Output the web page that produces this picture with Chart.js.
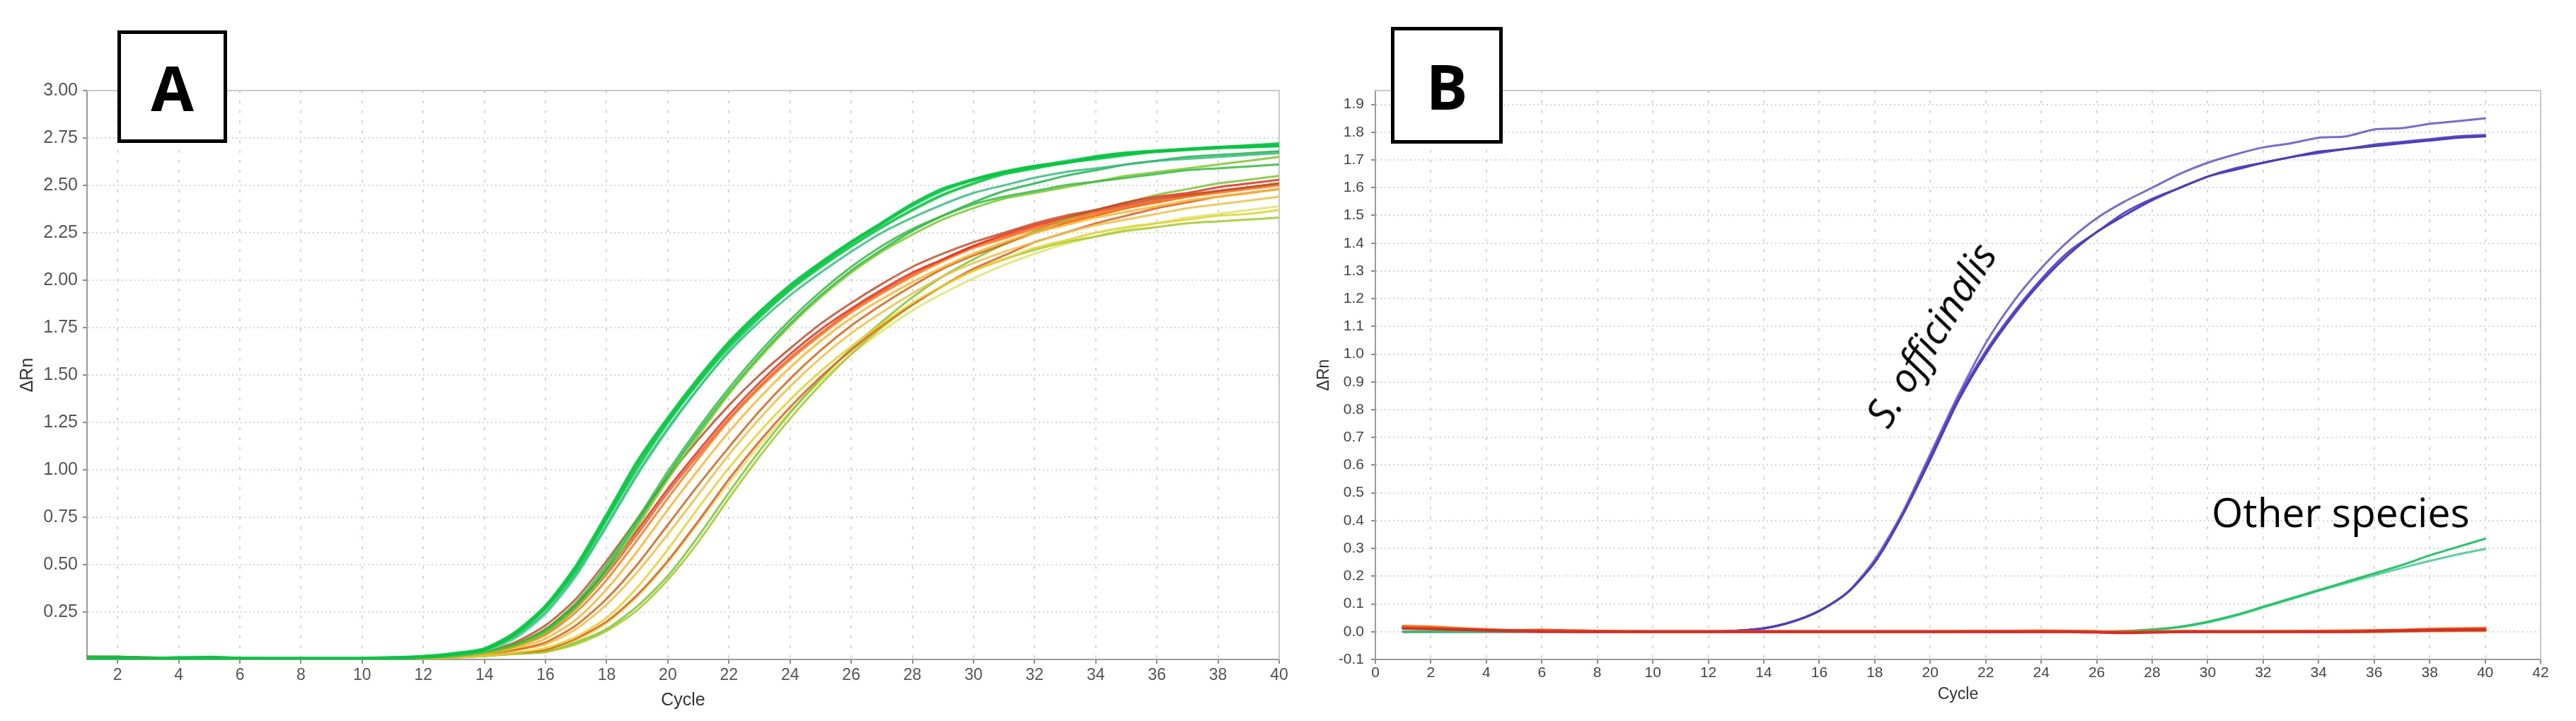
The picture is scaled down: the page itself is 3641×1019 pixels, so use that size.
<!DOCTYPE html>
<html>
<head>
<meta charset="utf-8">
<script src="https://cdn.jsdelivr.net/npm/chart.js@4.4.1/dist/chart.umd.min.js"></script>
<style>
  html, body { margin: 0; padding: 0; background: #fff; }
  #page { position: relative; width: 3641px; height: 1019px; overflow: hidden; background: #fff; }
  canvas { position: absolute; top: 0; }
  #chartA { left: 0; }
  #chartB { left: 1850px; }
  .tag { position: absolute; box-sizing: border-box; border: 5px solid #000; background: #fff;
         display: flex; align-items: center; justify-content: center;
         font-family: 'Open Sans', 'Liberation Sans', sans-serif; font-weight: 700; font-size: 88px; color: #000; }
  #tagA { left: 166px; top: 43px; width: 155px; height: 159px; }
  #tagB { left: 1966px; top: 38px; width: 158px; height: 165px; }
  .note { position: absolute; font-family: 'Open Sans', sans-serif; color: #000; white-space: nowrap; line-height: 1; }
  #noteS { left: 2728px; top: 472px; font-size: 56px; font-style: italic; transform: translate(-50%, -50%) rotate(-58deg); }
  #noteO { left: 3126px; top: 695px; font-size: 57px; }
</style>
</head>
<body>
<div id="page">
  <canvas id="chartA" width="1850" height="1019"></canvas>
  <canvas id="chartB" width="1791" height="1019"></canvas>
  <div class="tag" id="tagA">A</div>
  <div class="tag" id="tagB">B</div>
  <div class="note" id="noteS">S. officinalis</div>
  <div class="note" id="noteO">Other species</div>
</div>
<script>
// cycle numbers shared by both runs
const cycles = [1,2,3,4,5,6,7,8,9,10, 11,12,13,14,15,16,17,18,19,20,
                21,22,23,24,25,26,27,28,29,30, 31,32,33,34,35,36,37,38,39,40];

// tick labels
const xTicksA = [2,4,6,8,10,12,14,16,18,20,22,24,26,28,30,32,34,36,38,40];
const yTicksA = [0.25,0.5,0.75,1,1.25,1.5,1.75,2,2.25,2.5,2.75,3];
const xTicksB = [0,2,4,6,8,10,12,14,16,18,20,22,24,26,28,30,32,34,36,38,40,42];
const yTicksB = [-0.1,0,0.1,0.2,0.3,0.4,0.5,0.6,0.7,0.8,0.9,1,1.1,1.2,1.3,1.4,1.5,1.6,1.7,1.8,1.9];

// Panel A - delta Rn per cycle
const greenA1 = [0.01,0.01,0.005,0.005,0.01,0.005,0.005,0.005,0.005,0.005,
                 0.008,0.015,0.03,0.055,0.14,0.28,0.49,0.76,1.04,1.27,
                 1.48,1.67,1.83,1.97,2.09,2.2,2.3,2.4,2.48,2.53,
                 2.57,2.6,2.62,2.65,2.67,2.68,2.69,2.7,2.705,2.71];
const greenA2 = [0.005,0.005,0.005,0.01,0.01,0.005,0.005,0.005,0.005,0.005,
                 0.008,0.012,0.025,0.05,0.13,0.27,0.47,0.74,1.01,1.25,
                 1.46,1.65,1.81,1.95,2.07,2.18,2.28,2.37,2.45,2.51,
                 2.56,2.59,2.62,2.64,2.66,2.68,2.69,2.7,2.71,2.72];
const tealA1 = [0.005,0.005,0.005,0.005,0.01,0.005,0.005,0.005,0.005,0.005,
                0.008,0.012,0.025,0.05,0.12,0.25,0.45,0.71,0.98,1.22,
                1.43,1.62,1.78,1.92,2.04,2.15,2.25,2.33,2.4,2.46,
                2.5,2.54,2.57,2.59,2.61,2.63,2.64,2.65,2.66,2.67];
const tealA2 = [0.005,0.005,0.005,0.005,0.005,0.005,0.005,0.005,0.005,0.005,
                0.008,0.012,0.022,0.045,0.11,0.24,0.44,0.7,0.97,1.21,
                1.43,1.63,1.8,1.95,2.08,2.2,2.3,2.39,2.47,2.53,
                2.57,2.6,2.63,2.65,2.67,2.68,2.69,2.7,2.7,2.71];
const greenA3 = [0.005,0.005,0.005,0.005,0.012,0.008,0.005,0.005,0.005,0.005,
                 0.006,0.01,0.02,0.04,0.08,0.16,0.3,0.5,0.74,0.99,
                 1.22,1.43,1.62,1.79,1.94,2.07,2.18,2.27,2.34,2.4,
                 2.44,2.47,2.5,2.52,2.54,2.56,2.58,2.59,2.6,2.61];
const limeA1 = [0.005,0.005,0.005,0.005,0.005,0.005,0.005,0.005,0.005,0.005,
                0.006,0.01,0.018,0.035,0.07,0.14,0.27,0.46,0.7,0.95,
                1.18,1.4,1.59,1.76,1.91,2.04,2.15,2.24,2.32,2.38,
                2.43,2.46,2.49,2.52,2.55,2.57,2.59,2.61,2.63,2.65];
const greenA4 = [0.005,0.005,0.005,0.005,0.005,0.005,0.005,0.005,0.005,0.005,
                 0.006,0.01,0.02,0.04,0.075,0.15,0.28,0.48,0.72,0.97,
                 1.2,1.41,1.6,1.77,1.92,2.05,2.16,2.26,2.34,2.41,
                 2.47,2.51,2.55,2.58,2.61,2.63,2.65,2.66,2.67,2.68];
const brownA1 = [0.015,0.012,0.01,0.008,0.006,0.005,0.005,0.005,0.005,0.005,
                 0.006,0.01,0.02,0.04,0.09,0.18,0.32,0.52,0.74,0.96,
                 1.16,1.34,1.5,1.64,1.77,1.88,1.98,2.07,2.14,2.2,
                 2.25,2.3,2.34,2.37,2.4,2.43,2.45,2.47,2.49,2.51];
const redA1 = [0.015,0.015,0.01,0.008,0.006,0.005,0.005,0.005,0.005,0.006,
               0.008,0.012,0.022,0.04,0.08,0.16,0.29,0.47,0.68,0.9,
               1.1,1.29,1.46,1.61,1.74,1.85,1.95,2.04,2.11,2.18,
               2.24,2.29,2.33,2.37,2.41,2.44,2.46,2.49,2.51,2.53];
const orangeA1 = [0.012,0.01,0.008,0.006,0.005,0.005,0.005,0.005,0.005,0.005,
                  0.006,0.01,0.018,0.035,0.07,0.13,0.25,0.42,0.63,0.85,
                  1.06,1.26,1.43,1.58,1.71,1.83,1.93,2.02,2.1,2.17,
                  2.22,2.27,2.31,2.35,2.38,2.41,2.44,2.46,2.48,2.5];
const amberA1 = [0.008,0.008,0.006,0.005,0.005,0.005,0.005,0.005,0.005,0.005,
                 0.005,0.008,0.015,0.03,0.06,0.11,0.21,0.37,0.57,0.79,
                 1.0,1.2,1.38,1.54,1.68,1.8,1.9,1.99,2.07,2.14,
                 2.2,2.25,2.29,2.33,2.36,2.39,2.42,2.44,2.46,2.48];
const orangeA2 = [0.01,0.008,0.006,0.005,0.005,0.005,0.005,0.005,0.005,0.005,
                  0.005,0.008,0.015,0.03,0.05,0.09,0.18,0.32,0.5,0.71,
                  0.92,1.12,1.31,1.48,1.63,1.76,1.87,1.97,2.06,2.13,
                  2.19,2.25,2.3,2.34,2.38,2.41,2.44,2.47,2.49,2.51];
const amberA2 = [0.006,0.006,0.005,0.005,0.005,0.005,0.005,0.005,0.005,0.005,
                 0.005,0.008,0.014,0.028,0.05,0.08,0.16,0.29,0.46,0.66,
                 0.87,1.08,1.27,1.44,1.59,1.72,1.83,1.93,2.02,2.09,
                 2.15,2.2,2.25,2.29,2.32,2.35,2.38,2.4,2.42,2.44];
const yellowA1 = [0.008,0.008,0.006,0.005,0.005,0.005,0.005,0.005,0.005,0.005,
                  0.005,0.005,0.01,0.02,0.035,0.06,0.12,0.22,0.38,0.58,
                  0.8,1.01,1.2,1.37,1.52,1.65,1.77,1.88,1.97,2.05,
                  2.11,2.17,2.21,2.25,2.28,2.3,2.32,2.34,2.35,2.37];
const redA2 = [0.012,0.01,0.008,0.006,0.005,0.005,0.005,0.005,0.005,0.005,
               0.005,0.006,0.012,0.022,0.035,0.05,0.11,0.2,0.34,0.52,
               0.73,0.95,1.15,1.33,1.49,1.63,1.76,1.87,1.97,2.06,
               2.13,2.2,2.25,2.3,2.34,2.38,2.41,2.44,2.46,2.48];
const limeA2 = [0.005,0.005,0.005,0.005,0.005,0.005,0.005,0.005,0.005,0.005,
                0.005,0.005,0.01,0.018,0.03,0.04,0.08,0.15,0.26,0.42,
                0.62,0.85,1.07,1.27,1.45,1.61,1.75,1.87,1.97,2.05,
                2.11,2.16,2.2,2.23,2.26,2.28,2.3,2.31,2.32,2.33];
const greenA5 = [0.005,0.005,0.005,0.005,0.008,0.006,0.005,0.005,0.005,0.005,
                 0.005,0.005,0.01,0.018,0.03,0.04,0.09,0.16,0.28,0.44,
                 0.65,0.88,1.1,1.3,1.48,1.64,1.78,1.91,2.02,2.11,
                 2.19,2.26,2.32,2.37,2.41,2.45,2.48,2.51,2.53,2.55];
const redA3 = [0.012,0.012,0.01,0.006,0.005,0.005,0.005,0.005,0.005,0.005,
               0.006,0.01,0.02,0.035,0.07,0.14,0.27,0.45,0.66,0.88,
               1.08,1.27,1.44,1.59,1.72,1.84,1.94,2.03,2.11,2.18,
               2.23,2.28,2.32,2.36,2.39,2.42,2.45,2.47,2.49,2.51];
const paleA1 = [0.005,0.005,0.005,0.005,0.005,0.005,0.005,0.005,0.005,0.005,
                0.005,0.005,0.01,0.02,0.03,0.05,0.1,0.19,0.33,0.51,
                0.72,0.93,1.13,1.31,1.47,1.61,1.73,1.84,1.93,2.01,
                2.08,2.14,2.19,2.23,2.27,2.3,2.33,2.35,2.37,2.39];

// Panel B - delta Rn per cycle
const sOffB1 = [0,0,0,0,0,0,0,0,0,0,
                0,0,0.003,0.012,0.035,0.075,0.14,0.26,0.43,0.64,
                0.85,1.04,1.19,1.31,1.41,1.49,1.55,1.6,1.65,1.69,
                1.72,1.745,1.76,1.78,1.785,1.81,1.815,1.83,1.84,1.85];
const sOffB2 = [0,0,0,0,0,0,0,0,0,0,
                0,0,0.003,0.012,0.035,0.075,0.14,0.25,0.42,0.62,
                0.83,1.0,1.14,1.26,1.36,1.44,1.5,1.555,1.6,1.64,
                1.665,1.69,1.71,1.73,1.74,1.75,1.76,1.77,1.78,1.785];
const sOffB3 = [0,0,0,0,0,0,0,0,0,0,
                0,0,0.003,0.012,0.035,0.075,0.14,0.25,0.42,0.63,
                0.84,1.01,1.15,1.27,1.37,1.44,1.51,1.56,1.6,1.64,
                1.67,1.69,1.71,1.725,1.74,1.755,1.765,1.775,1.785,1.79];
const otherB1 = [0,0,0,0,0,0,0,0,0,0,
                 0,0,0,0,0,0,0,0,0,0,
                 0,0,0,0,0,0,0.002,0.008,0.018,0.036,
                 0.06,0.09,0.12,0.15,0.18,0.21,0.24,0.275,0.305,0.335];
const otherB2 = [0,0,0,0,0,0,0,0,0,0,
                 0,0,0,0,0,0,0,0,0,0,
                 0,0,0,0,0,0,0.002,0.007,0.016,0.033,
                 0.057,0.087,0.117,0.147,0.175,0.203,0.23,0.255,0.278,0.298];
const flatB1 = [0.012,0.01,0.008,0.005,0.003,0.001,0,0,0,0,
                0,0,0,0,0,0,0,0,0,0,
                0,0,0,0,0,-0.002,-0.004,-0.002,0,0,
                0,0,0,0,0,0.002,0.004,0.006,0.007,0.008];
const flatB2 = [0.02,0.017,0.012,0.008,0.004,0.002,0.002,0.001,0,0,
                0,0,0,0,0,0,0,0,0,0,
                0.001,0.002,0.002,0.003,0.002,0,-0.003,0,0.001,0,
                0,0,0.001,0.002,0.003,0.004,0.006,0.009,0.011,0.012];
const flatB3 = [0.016,0.012,0.008,0.006,0.004,0.006,0.004,0.002,0,0,
                0,0,0,0,0,0,0,0,0,0,
                0,0,0,0.002,0.001,0,-0.002,-0.001,0,0,
                0,0,0,0.001,0.002,0.003,0.003,0.005,0.006,0.007];
const flatB4 = [0.018,0.014,0.01,0.006,0.003,0.002,0.002,0.002,0.001,0,
                0,0,0,0,0,0,0,0,0,0,
                0,0,0,0,0,0,0,0,0,0,
                0,0,0,0,0,0,0.002,0.003,0.004,0.004];

// line styles (first entry is drawn on top)
const seriesA = [
  { data: greenA1, color: '#00c83cee', width: 5 },
  { data: greenA2, color: '#14c84aee', width: 4 },
  { data: tealA1, color: '#30c080dd', width: 3 },
  { data: tealA2, color: '#5cd09cdd', width: 3 },
  { data: greenA3, color: '#30c040dd', width: 3 },
  { data: limeA1, color: '#80c828dd', width: 3 },
  { data: greenA4, color: '#20b848dd', width: 3 },
  { data: brownA1, color: '#c8502add', width: 3 },
  { data: redA1, color: '#e8321edd', width: 3 },
  { data: orangeA1, color: '#ff7814dd', width: 3 },
  { data: amberA1, color: '#ffb428dd', width: 3 },
  { data: orangeA2, color: '#d86414dd', width: 3 },
  { data: amberA2, color: '#f0c040dd', width: 3 },
  { data: yellowA1, color: '#e6d228dd', width: 3 },
  { data: redA2, color: '#e65a1edd', width: 3 },
  { data: limeA2, color: '#a0cc28dd', width: 3 },
  { data: greenA5, color: '#78c832dd', width: 3 },
  { data: redA3, color: '#f05a28dd', width: 3 },
  { data: paleA1, color: '#dce66edd', width: 3 }
];
const seriesB = [
  { data: flatB1, color: '#e02828', width: 4 },
  { data: flatB2, color: '#f07814', width: 4 },
  { data: flatB3, color: '#d25a0a', width: 4 },
  { data: flatB4, color: '#b8901e', width: 4 },
  { data: otherB1, color: '#1ec864', width: 3 },
  { data: otherB2, color: '#5ad29a', width: 3 },
  { data: sOffB2, color: '#4b3cc4', width: 3 },
  { data: sOffB3, color: '#5a4ccc', width: 3 },
  { data: sOffB1, color: '#7a6ad2', width: 3 }
];

Chart.defaults.font.family = "'Liberation Sans', Arial, sans-serif";

// light frame on the top and right edges of the plot
const frame = {
  id: 'frame',
  beforeDatasetsDraw(chart) {
    const { ctx, chartArea: a } = chart;
    ctx.save();
    ctx.strokeStyle = '#c8c8c8';
    ctx.lineWidth = 2;
    ctx.beginPath();
    ctx.moveTo(a.left, a.top);
    ctx.lineTo(a.right, a.top);
    ctx.lineTo(a.right, a.bottom);
    ctx.stroke();
    ctx.restore();
  }
};

function toDatasets(series) {
  return series.map(s => ({
    data: cycles.map((c, i) => ({ x: c, y: s.data[i] })),
    borderColor: s.color,
    borderWidth: s.width,
    pointRadius: 0,
    fill: false
  }));
}

function panelOptions(p) {
  return {
    responsive: false,
    animation: false,
    devicePixelRatio: 1,
    layout: { padding: { top: p.top, right: p.right, left: 0, bottom: 0 } },
    plugins: { legend: { display: false }, tooltip: { enabled: false } },
    elements: { line: { tension: 0.25, borderJoinStyle: 'round', borderCapStyle: 'round' } },
    scales: {
      x: {
        type: 'linear',
        min: p.xMin,
        max: p.xMax,
        afterBuildTicks: s => { s.ticks = p.xTicks.map(v => ({ value: v })); },
        afterFit: s => { s.height = 87; },
        grid: { color: '#d6d6d6', lineWidth: 2, tickLength: 6, tickColor: '#8c8c8c', tickWidth: 2, tickBorderDash: [] },
        border: { color: '#9a9a9a', width: 2, dash: [4, 10] },
        ticks: { color: p.tickColor, font: p.xTickFont, padding: p.xTickPad, maxRotation: 0, autoSkip: false,
                 callback: v => String(v) },
        title: { display: true, text: 'Cycle', color: '#333', font: p.titleFont,
                 padding: { top: 0, bottom: p.xTitlePad } }
      },
      y: {
        type: 'linear',
        min: p.yMin,
        max: p.yMax,
        afterBuildTicks: s => { s.ticks = p.yTicks.map(v => ({ value: v })); },
        afterFit: s => { s.width = p.yAxisWidth; },
        grid: { color: '#d6d6d6', lineWidth: 2, tickLength: 6, tickColor: '#8c8c8c', tickWidth: 2, tickBorderDash: [] },
        border: { color: '#9a9a9a', width: 2, dash: [2, 4] },
        ticks: { color: p.tickColor, font: p.yTickFont, padding: p.yTickPad, autoSkip: false,
                 callback: v => v.toFixed(p.decimals) },
        title: { display: true, text: 'ΔRn', color: '#333', font: p.titleFont,
                 padding: { top: p.yTitlePad, bottom: 0 } }
      }
    }
  };
}

new Chart(document.getElementById('chartA'), {
  type: 'line',
  data: { datasets: toDatasets(seriesA) },
  options: panelOptions({
    top: 128, right: 42, yAxisWidth: 123,
    xMin: 1, xMax: 40, xTicks: xTicksA,
    yMin: 0, yMax: 3, yTicks: yTicksA, decimals: 2,
    tickColor: '#555',
    xTickFont: { family: "'Liberation Sans Narrow', 'Liberation Sans', sans-serif", size: 23 },
    yTickFont: { family: "'Liberation Sans Narrow', 'Liberation Sans', sans-serif", size: 25 },
    xTickPad: 3, yTickPad: 7,
    titleFont: { size: 25 }, xTitlePad: 14, yTitlePad: 24
  }),
  plugins: [frame]
});

new Chart(document.getElementById('chartB'), {
  type: 'line',
  data: { datasets: toDatasets(seriesB) },
  options: panelOptions({
    top: 128, right: 50, yAxisWidth: 94,
    xMin: 0, xMax: 42, xTicks: xTicksB,
    yMin: -0.1, yMax: 1.95, yTicks: yTicksB, decimals: 1,
    tickColor: '#444',
    xTickFont: { size: 21 },
    yTickFont: { size: 21 },
    xTickPad: 1, yTickPad: 10,
    titleFont: { size: 23 }, xTitlePad: 24, yTitlePad: 8
  }),
  plugins: [frame]
});
</script>
</body>
</html>
